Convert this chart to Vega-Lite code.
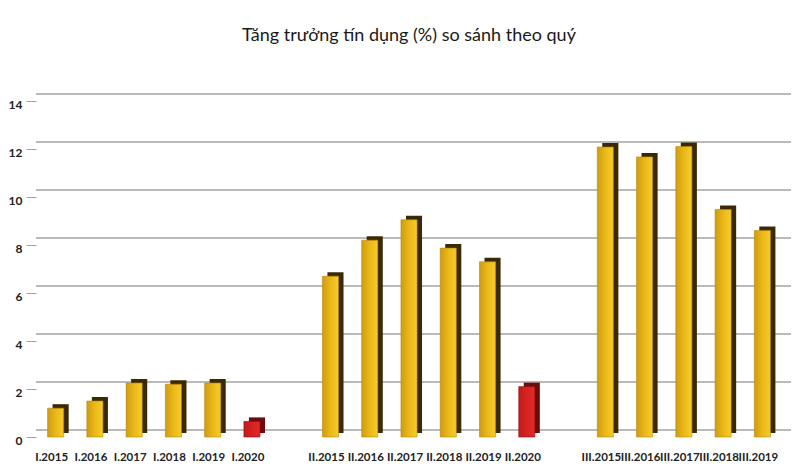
{
  "$schema": "https://vega.github.io/schema/vega-lite/v6.json",
  "width": 746,
  "height": 336,
  "autosize": {"type": "none"},
  "padding": {"left": 36, "top": 101, "right": 18, "bottom": 39},
  "background": "white",
  "config": {"view": {"stroke": null}, "font": "Lato"},
  "title": {"text": "Tăng trưởng tín dụng (%) so sánh theo quý", "fontSize": 18, "fontWeight": "normal", "font": "Lato", "color": "#1a1a1a", "anchor": "middle", "offset": 48},
  "datasets": {
    "bars": [
      {"quarter": "I.2015", "value": 1.2, "kind": "past"},
      {"quarter": "I.2016", "value": 1.5, "kind": "past"},
      {"quarter": "I.2017", "value": 2.25, "kind": "past"},
      {"quarter": "I.2018", "value": 2.2, "kind": "past"},
      {"quarter": "I.2019", "value": 2.25, "kind": "past"},
      {"quarter": "I.2020", "value": 0.65, "kind": "2020"},
      {"quarter": "II.2015", "value": 6.7, "kind": "past"},
      {"quarter": "II.2016", "value": 8.2, "kind": "past"},
      {"quarter": "II.2017", "value": 9.05, "kind": "past"},
      {"quarter": "II.2018", "value": 7.87, "kind": "past"},
      {"quarter": "II.2019", "value": 7.3, "kind": "past"},
      {"quarter": "II.2020", "value": 2.1, "kind": "2020"},
      {"quarter": "III.2015", "value": 12.08, "kind": "past"},
      {"quarter": "III.2016", "value": 11.67, "kind": "past"},
      {"quarter": "III.2017", "value": 12.1, "kind": "past"},
      {"quarter": "III.2018", "value": 9.48, "kind": "past"},
      {"quarter": "III.2019", "value": 8.6, "kind": "past"}
    ],
    "grid": [{"v": 0}, {"v": 2}, {"v": 4}, {"v": 6}, {"v": 8}, {"v": 10}, {"v": 12}, {"v": 14}]
  },
  "layer": [
    {
      "data": {"name": "grid"},
      "mark": {"type": "rule", "color": "#a3a3a3", "strokeWidth": 1.3, "xOffset": 9, "yOffset": -7},
      "encoding": {
        "y": {
          "field": "v", "type": "quantitative", "title": null,
          "scale": {"domain": [0, 14], "nice": false},
          "axis": {"values": [0, 2, 4, 6, 8, 10, 12, 14], "title": null, "grid": false, "domain": false, "tickSize": 10, "tickColor": "#a3a3a3", "labelPadding": 4, "labelOffset": 3, "labelFontSize": 12, "labelColor": "#222222", "labelFont": "Lato", "labelFontWeight": "bold"}
        }
      }
    },
    {
      "data": {"name": "bars"},
      "mark": {"type": "bar", "xOffset": 5, "yOffset": -4, "width": {"band": 0.41}},
      "encoding": {
        "x": {
          "field": "quarter", "type": "nominal", "sort": null,
          "scale": {"domain": ["I.2015", "I.2016", "I.2017", "I.2018", "I.2019", "I.2020", "gap1", "II.2015", "II.2016", "II.2017", "II.2018", "II.2019", "II.2020", "gap2", "III.2015", "III.2016", "III.2017", "III.2018", "III.2019"], "paddingInner": 0, "paddingOuter": 0},
          "axis": {"title": null, "labelAngle": 0, "domain": false, "ticks": false, "labelPadding": 14, "labelOffset": -4, "labelFontSize": 11.5, "labelFont": "Lato", "labelFontWeight": "bold", "labelColor": "#222222", "labelExpr": "indexof(datum.label, 'gap') == 0 ? '' : datum.label"}
        },
        "y": {"field": "value", "type": "quantitative", "title": null},
        "color": {"field": "kind", "type": "nominal", "scale": {"domain": ["past", "2020"], "range": ["#3a2905", "#6e0b0b"]}, "legend": null}
      }
    },
    {
      "data": {"name": "bars"},
      "transform": [{"filter": "datum.kind == 'past'"}],
      "mark": {"type": "bar", "width": {"band": 0.41}, "stroke": "#b88a08", "strokeWidth": 0.6, "color": {"gradient": "linear", "x1": 0, "y1": 0, "x2": 1, "y2": 0, "stops": [{"offset": 0, "color": "#cf9c10"}, {"offset": 0.5, "color": "#eab81a"}, {"offset": 1, "color": "#f6cc2a"}]}},
      "encoding": {
        "x": {"field": "quarter", "type": "nominal", "sort": null},
        "y": {"field": "value", "type": "quantitative", "title": null}
      }
    },
    {
      "data": {"name": "bars"},
      "transform": [{"filter": "datum.kind == '2020'"}],
      "mark": {"type": "bar", "width": {"band": 0.41}, "stroke": "#8a1010", "strokeWidth": 0.6, "color": {"gradient": "linear", "x1": 0, "y1": 0, "x2": 1, "y2": 0, "stops": [{"offset": 0, "color": "#c41a1a"}, {"offset": 1, "color": "#e42a2a"}]}},
      "encoding": {
        "x": {"field": "quarter", "type": "nominal", "sort": null},
        "y": {"field": "value", "type": "quantitative", "title": null}
      }
    }
  ]
}
